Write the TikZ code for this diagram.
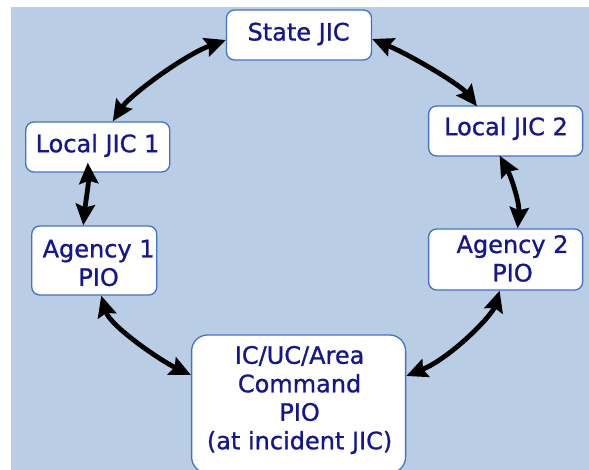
\documentclass[tikz,border=0pt]{standalone}
\usepackage{fontspec}
\setmainfont{DejaVu Sans}
\newfontfamily\lblfont{DejaVu Sans}[FakeBold=1]
\usetikzlibrary{arrows.meta}
\definecolor{bgblue}{HTML}{B9CDE5}
\definecolor{boxedge}{HTML}{4472C4}
\definecolor{txtnavy}{RGB}{22,22,145}
\tikzset{
  box/.style={draw=boxedge, line width=1.3pt, fill=white, rounded corners=8pt, inner sep=0pt},
  lbl/.style={text=txtnavy, font=\lblfont\fontsize{24}{28.5}\selectfont, align=center, inner sep=0pt},
  link/.style={line width=4.8pt,
    {Stealth[length=21pt,width=19pt,inset=3pt]}-{Stealth[length=21pt,width=19pt,inset=3pt]}}
}
\begin{document}
\begin{tikzpicture}[x=1pt,y=-1pt]
\useasboundingbox (0,0) rectangle (589,470);
\fill[bgblue] (10.5,7.3) rectangle (589,470);

% boxes
\node[box, minimum width=145pt, minimum height=50pt] (state) at (299,35) {};
\node[box, minimum width=144pt, minimum height=50pt] (loc1) at (97.75,147) {};
\node[box, minimum width=154pt, minimum height=50pt] (loc2) at (505.6,131) {};
\node[box, minimum width=125pt, minimum height=69pt] (ag1) at (94.25,260.5) {};
\node[box, minimum width=154pt, minimum height=61pt] (ag2) at (505.6,259.5) {};
\node[box, rounded corners=16pt, minimum width=214pt, minimum height=138pt] (ic) at (298.6,404) {};

% two-way links
\draw[link] ([yshift=-5pt]state.west) .. controls +(-41.5,15) and +(17,-26) .. ([xshift=15pt]loc1.north);
\draw[link] ([yshift=-4pt]state.east) .. controls +(38,16) and +(-17,-22) .. ([xshift=-28.6pt,yshift=-1pt]loc2.north);
\draw[link] ([xshift=-10pt,yshift=10pt]loc1.south) .. controls +(1,20) and +(2,-20) .. ([xshift=-11pt]ag1.north);
\draw[link] ([xshift=-6pt,yshift=1pt]loc2.south) .. controls +(12,22) and +(2,-25) .. ([xshift=12pt]ag2.north);
\draw[link] ([xshift=7pt]ag1.south) .. controls +(8.75,30) and +(-31.6,-15) .. ([yshift=29pt]ic.west);
\draw[link] ([xshift=-6pt]ag2.south) .. controls +(-7.6,25) and +(44.3,-18) .. ([yshift=28pt]ic.east);

% labels
\node[lbl] (state-t) at (298.6,34) {State JIC};
\node[lbl] (loc1-t) at (97.5,145.5) {Local JIC 1};
\node[lbl] (loc2-t) at (506,128.5) {Local JIC 2};
\node[lbl] (ag1-t) at (98.6,263) {Agency 1\\PIO};
\node[lbl] (ag2-t) at (512.5,258.5) {Agency 2\\PIO};
\node[lbl] (ic-t) at (299.6,400) {IC/UC/Area\\Command\\PIO\\(at incident JIC)};
\end{tikzpicture}
\end{document}
